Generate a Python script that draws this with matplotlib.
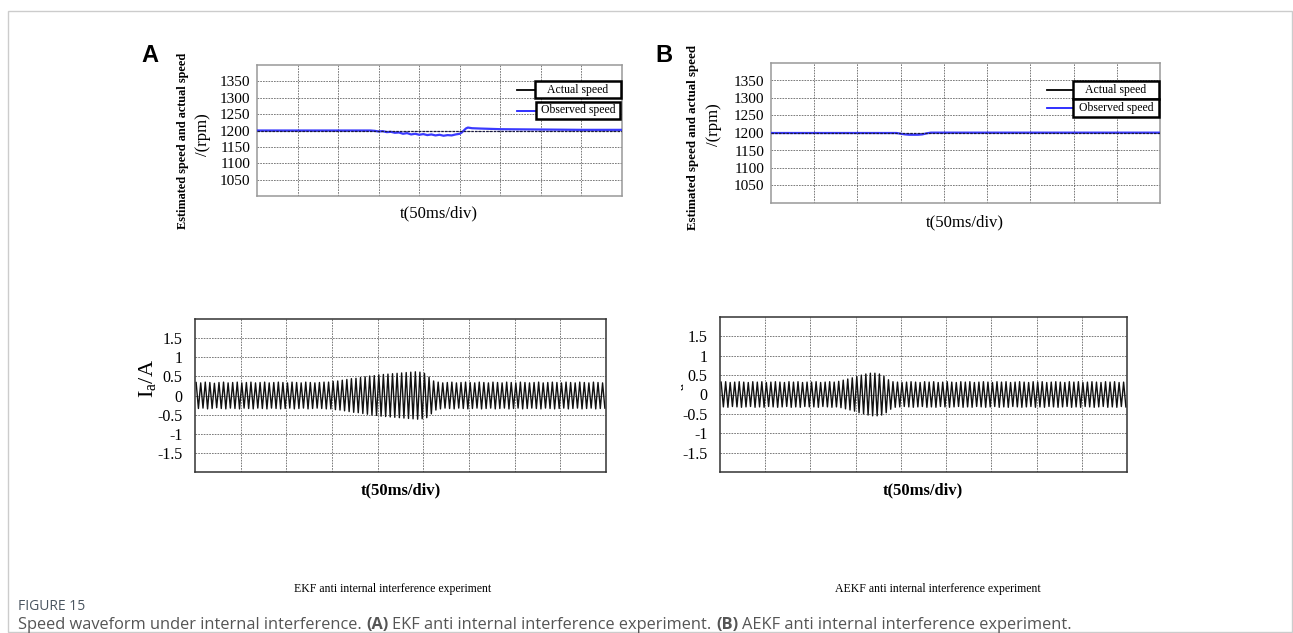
import matplotlib.pyplot as plt
import numpy as np
from matplotlib.patches import Rectangle
from matplotlib.lines import Line2D
from matplotlib.transforms import Bbox

W, H = 1293, 633

# time axis in divisions (50 ms/div), 9 divisions shown
n_div = 9

# speed panels
speed_ticks = [1050, 1100, 1150, 1200, 1250, 1300, 1350]
actual_t = [0, 9]
actual_rpm = [1200, 1200]

ekf_obs_t = [0, 2.8, 2.9, 3.0, 3.1, 3.2, 3.3, 3.4, 3.5, 3.6, 3.7, 3.8, 3.9, 4.0, 4.1, 4.2,
             4.3, 4.4, 4.5, 4.6, 4.7, 4.8, 4.9, 5.0, 5.05, 5.1, 5.15, 5.2, 5.3, 5.5, 6.0,
             7.0, 8.0, 9.0]
ekf_obs_rpm = [1200, 1200, 1199, 1197, 1198, 1195, 1196, 1193, 1194, 1190, 1192, 1188, 1190,
               1187, 1189, 1186, 1188, 1185, 1187, 1184, 1186, 1185, 1188, 1190, 1194, 1200,
               1206, 1209, 1207, 1206, 1204, 1203, 1202, 1202]

aekf_obs_t = [0, 2.9, 3.0, 3.1, 3.2, 3.3, 3.4, 3.5, 3.6, 3.7, 9.0]
aekf_obs_rpm = [1200, 1200, 1198, 1196, 1195, 1195, 1195, 1196, 1199, 1201, 1201]

# phase current: peak amplitude of each cycle, 10 cycles per division
current_ticks = [1.5, 1, 0.5, 0, -0.5, -1, -1.5]
current_labels = ['1.5', '1', '0.5', '0', '-0.5', '-1', '-1.5']

ekf_amp = [0.34, 0.33, 0.35, 0.34, 0.32, 0.34, 0.35, 0.33, 0.34, 0.35,
           0.33, 0.34, 0.35, 0.33, 0.34, 0.35, 0.33, 0.34, 0.35, 0.34,
           0.33, 0.35, 0.34, 0.33, 0.35, 0.34, 0.33, 0.34, 0.35, 0.35,
           0.37, 0.38, 0.40, 0.42, 0.44, 0.45, 0.47, 0.49, 0.51, 0.52,
           0.54, 0.55, 0.56, 0.57, 0.58, 0.59, 0.60, 0.61, 0.62, 0.61,
           0.58, 0.48, 0.38, 0.35, 0.33, 0.34, 0.35, 0.33, 0.34, 0.35,
           0.34, 0.33, 0.35, 0.34, 0.33, 0.35, 0.34, 0.33, 0.35, 0.34,
           0.33, 0.35, 0.34, 0.33, 0.34, 0.35, 0.33, 0.34, 0.35, 0.34,
           0.33, 0.35, 0.34, 0.33, 0.35, 0.34, 0.33, 0.35, 0.34, 0.33]

aekf_amp = [0.32, 0.33, 0.31, 0.32, 0.33, 0.32, 0.31, 0.33, 0.32, 0.33,
            0.31, 0.32, 0.33, 0.32, 0.31, 0.33, 0.32, 0.33, 0.31, 0.32,
            0.32, 0.33, 0.31, 0.32, 0.33, 0.32, 0.34, 0.37, 0.40, 0.43,
            0.47, 0.50, 0.53, 0.55, 0.55, 0.53, 0.47, 0.38, 0.33, 0.32,
            0.31, 0.32, 0.33, 0.32, 0.31, 0.33, 0.32, 0.33, 0.31, 0.32,
            0.33, 0.32, 0.31, 0.33, 0.32, 0.33, 0.31, 0.32, 0.33, 0.32,
            0.31, 0.33, 0.32, 0.33, 0.31, 0.32, 0.33, 0.32, 0.31, 0.33,
            0.32, 0.33, 0.31, 0.32, 0.33, 0.32, 0.31, 0.33, 0.32, 0.33,
            0.31, 0.32, 0.33, 0.32, 0.31, 0.33, 0.32, 0.33, 0.31, 0.32]

SERIF = ['Liberation Serif', 'DejaVu Serif']
SANS = ['Open Sans', 'DejaVu Sans']

fig = plt.figure(figsize=(W / 100, H / 100), dpi=100)


def px_axes(l, t, r, b):
    return fig.add_axes([l / W, 1 - b / H, (r - l) / W, (b - t) / H])


def ftext(x, y, s, **kw):
    return fig.text(x / W, 1 - y / H, s, **kw)


def style_axes(ax, ylim, yticks, ylabels, spine_color, pad, size=11):
    ax.set_xlim(0, n_div)
    ax.set_ylim(*ylim)
    ax.set_xticks(range(1, n_div))
    ax.set_xticklabels([])
    ax.set_yticks(yticks)
    ax.set_yticklabels(ylabels, family=SERIF, fontsize=size)
    ax.tick_params(length=0, pad=pad)
    ax.grid(True, color='#666666', lw=0.6, ls=(0, (2, 1.3)))
    for sp in ax.spines.values():
        sp.set_color(spine_color)
        sp.set_linewidth(1.1)


def legend_box(x0, x1, y0, y1, label, color, line_x0):
    fig.patches.append(Rectangle((x0 / W, 1 - y1 / H), (x1 - x0) / W, (y1 - y0) / H,
                                 transform=fig.transFigure, facecolor='white',
                                 edgecolor='black', lw=1.8, zorder=10))
    ym = (y0 + y1) / 2
    fig.lines.append(Line2D([line_x0 / W, x0 / W], [1 - ym / H] * 2, color=color,
                            lw=1.3, transform=fig.transFigure, zorder=10))
    ftext((x0 + x1) / 2, ym, label, ha='center', va='center', family=SERIF,
          fontsize=8.5, zorder=11)


# outer frame
fig.patches.append(Rectangle((8 / W, 1 - 632 / H), 1284 / W, 621 / H,
                             transform=fig.transFigure, facecolor='none',
                             edgecolor='#cccccc', lw=1))

# speed panels
speed_panels = [((257, 65, 622, 196), ekf_obs_t, ekf_obs_rpm),
                ((771, 63, 1160, 203), aekf_obs_t, aekf_obs_rpm)]
for box, obs_t, obs_rpm in speed_panels:
    ax = px_axes(*box)
    style_axes(ax, (1000, 1400), speed_ticks, [str(v) for v in speed_ticks], '#999999', 5)
    ax.plot(obs_t, obs_rpm, color='#3a3aff', lw=1.6, zorder=3)
    ax.plot(actual_t, actual_rpm, color='#1a1a40', lw=0.9, ls=(0, (2, 1)), zorder=4)

# current panels
current_panels = [((195, 319, 606, 472), ekf_amp), ((720, 317, 1127, 472), aekf_amp)]
for box, amp in current_panels:
    ax = px_axes(*box)
    style_axes(ax, (-2, 2), current_ticks, current_labels, '#333333', 9, size=11.5)
    amp = np.asarray(amp)
    cyc = np.arange(len(amp)) / 10
    t = np.column_stack([cyc + 0.025, cyc + 0.075]).ravel()
    y = np.column_stack([amp, -amp]).ravel()
    ax.plot(t, y, color='#111111', lw=1.0)

# legends
legend_box(535, 621, 81, 98, 'Actual speed', 'black', 517)
legend_box(536, 620, 102, 119, 'Observed speed', '#2020ff', 517)
legend_box(1073, 1159, 81, 99, 'Actual speed', 'black', 1047)
legend_box(1073, 1159, 99, 117, 'Observed speed', '#2020ff', 1047)

# panel letters
ftext(150, 55, 'A', ha='center', va='center', family=['Liberation Sans'],
      fontsize=17, fontweight='bold')
ftext(664, 55, 'B', ha='center', va='center', family=['Liberation Sans'],
      fontsize=17, fontweight='bold')

# axis labels
for x, y in [(439, 213), (965, 222)]:
    ftext(x, y, 't(50ms/div)', ha='center', va='center', family=SERIF, fontsize=12)
for x, y in [(401, 490), (923, 490)]:
    ftext(x, y, 't(50ms/div)', ha='center', va='center', family=SERIF, fontsize=12,
          fontweight='bold')
for x1, x2, y1, y2, fs in [(183, 203, 141, 135, 8.8), (693, 714, 137, 125, 9.3)]:
    ftext(x1, y1, 'Estimated speed and actual speed', ha='center', va='center',
          rotation=90, family=SERIF, fontsize=fs, fontweight='bold')
    ftext(x2, y2, '/(rpm)', ha='center', va='center', rotation=90, family=SERIF,
          fontsize=12)
ftext(148, 378, r'$\mathregular{I_a/A}$', ha='center', va='center', rotation=90,
      family=SERIF, fontsize=16)
# second current label is cut off by the tick labels in the original
lab_b = ftext(675, 378, r'$\mathregular{I_a/A}$', ha='center', va='center', rotation=90,
              family=SERIF, fontsize=16)
lab_b.set_clip_box(Bbox.from_extents(681, 0, 700, H))
lab_b.set_clip_on(True)

# sub captions
ftext(393, 589, 'EKF anti internal interference experiment', ha='center', va='center',
      family=SERIF, fontsize=8.5)
ftext(938, 589, 'AEKF anti internal interference experiment', ha='center', va='center',
      family=SERIF, fontsize=8.5)

# figure caption
ftext(18, 607, 'FIGURE 15', ha='left', va='center', family=SANS, fontsize=10,
      color='#4a5560')
renderer = fig.canvas.get_renderer()


def width_px(s, **kw):
    t = fig.text(0, 0, s, **kw)
    w = t.get_window_extent(renderer).width
    t.remove()
    return w


cap_kw = dict(family=SANS, fontsize=11.8, color='#555555')
space = width_px('a a', **cap_kw) - width_px('aa', **cap_kw)
pieces = [('Speed waveform under internal interference.', 'normal'), ('(A)', 'bold'),
          ('EKF anti internal interference experiment.', 'normal'), ('(B)', 'bold'),
          ('AEKF anti internal interference experiment.', 'normal')]
x = 18
for s, wgt in pieces:
    ftext(x, 625, s, ha='left', va='center', fontweight=wgt, **cap_kw)
    x += width_px(s, fontweight=wgt, **cap_kw) + space

fig.savefig('out.png', dpi=100)
